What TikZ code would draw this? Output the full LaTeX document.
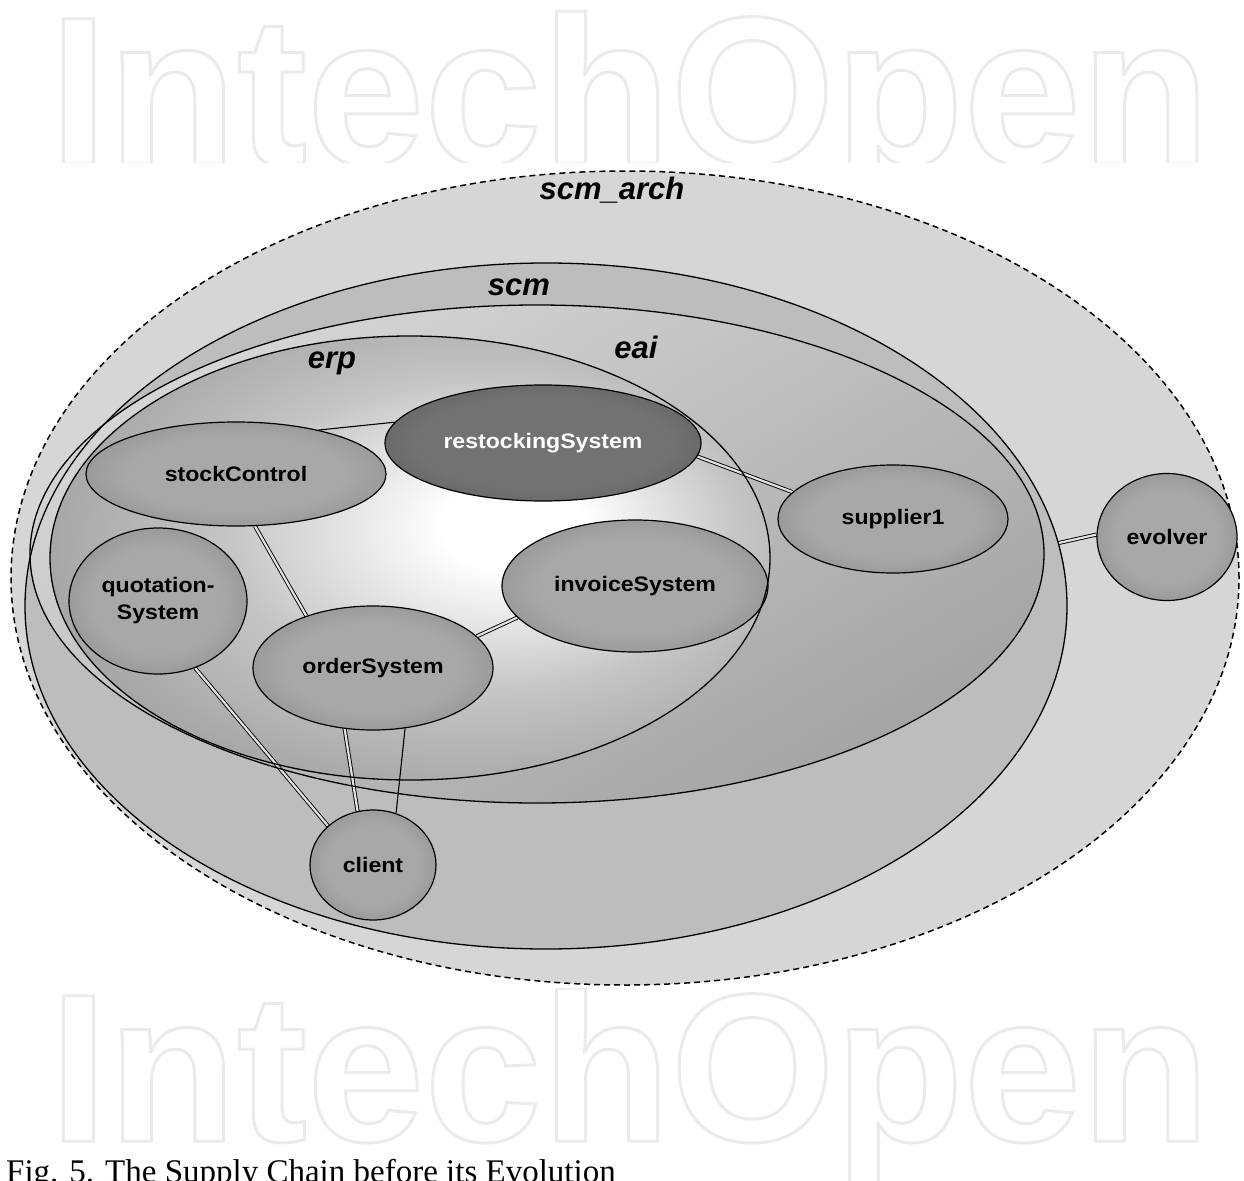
\documentclass[tikz,border=0pt]{standalone}
\usepackage{fontspec}
\setmainfont{Liberation Serif}
\setsansfont{Liberation Sans}
\newfontfamily\wmfont{Liberation Sans}
\usetikzlibrary{shapes.geometric}

\definecolor{wmgray}{HTML}{EBEBEB}
\definecolor{archfill}{HTML}{D6D6D6}
\definecolor{scmfill}{HTML}{BDBDBD}
\definecolor{eaitop}{HTML}{D6D6D6}
\definecolor{eaibot}{HTML}{A4A4A4}
\definecolor{erpout}{HTML}{A0A0A0}
\definecolor{erpmid}{HTML}{C4C4C4}
\definecolor{compin}{HTML}{A8A8A8}
\definecolor{compmid}{HTML}{8A8A8A}
\definecolor{compout}{HTML}{6A6A6A}
\definecolor{restin}{HTML}{727272}
\definecolor{restout}{HTML}{444444}
\definecolor{dblfill}{HTML}{E2E2E2}

\pgfdeclareradialshading{compsh}{\pgfpoint{0bp}{0bp}}{color(0bp)=(compin); color(18bp)=(compin); color(34bp)=(compmid); color(50bp)=(compout)}
\pgfdeclareradialshading{restsh}{\pgfpoint{0bp}{0bp}}{color(0bp)=(restin); color(20bp)=(restin); color(50bp)=(restout)}
\pgfdeclareradialshading{erpsh}{\pgfpoint{8bp}{4bp}}{color(0bp)=(white); color(5bp)=(white); color(18bp)=(erpmid); color(31bp)=(erpout); color(50bp)=(erpout)}

\newcommand{\complbl}[1]{\scalebox{1.1}[1]{#1}}
\newcommand{\outlinetext}[1]{\special{pdf:literal direct 1 Tr 3 w 0.92 G}#1\special{pdf:literal direct 0 Tr}}

\pgfdeclarelayer{bglayer}
\pgfdeclarelayer{connlayer}
\pgfdeclarelayer{toplayer}
\pgfsetlayers{bglayer,connlayer,main,toplayer}

\tikzset{
  container/.style={ellipse, inner sep=0pt, outer sep=0pt},
  compbox/.style={ellipse, draw=black, line width=1.2pt, shading=compsh, inner sep=0pt,
    font=\sffamily\bfseries\fontsize{21}{27}\selectfont, align=center},
  compdark/.style={compbox, shading=restsh, text=white},
  contborder/.style={draw=black, line width=1.3pt},
  archline/.style={draw=black, line width=1.5pt, dash pattern=on 6pt off 4pt},
  dblconn/.style={draw=black, line width=0.9pt, double=dblfill, double distance=2.2pt},
  sglconn/.style={draw=black, line width=1.1pt},
  contlabel/.style={font=\sffamily\bfseries\itshape\fontsize{31}{34}\selectfont, inner sep=0pt},
  wmtext/.style={font=\wmfont\bfseries\fontsize{211}{211}\selectfont, inner sep=0pt, anchor=base west, text=wmgray},
}

\begin{document}
\begin{tikzpicture}[x=1pt, y=-1pt]
\useasboundingbox (0,0) rectangle (1244,1180);

\begin{pgfonlayer}{bglayer}
  % watermark (outlined text)
  \node[wmtext] (wmtop) at (49,164) {\outlinetext{IntechOpen}};
  \node[wmtext] (wmbot) at (49,1141) {\outlinetext{IntechOpen}};
  \fill[white] (0,163) rectangle (1244,988);

  % containers
  \node[container, fill=archfill, archline, minimum width=1228pt, minimum height=814pt] (scmarch) at (625,578) {};
  \node[container, fill=scmfill, minimum width=1042pt, minimum height=686pt] (scm) at (546,606) {};
  \node[container, top color=eaitop, bottom color=eaibot, shading angle=30,
        minimum width=1014pt, minimum height=498pt] (eai) at (537,554) {};
  \node[container, shading=erpsh, minimum width=720pt, minimum height=444pt] (erp) at (410,558) {};
\end{pgfonlayer}

% labels of containers
\node[contlabel] (lblarch) at (612,190) {scm\_arch};
\node[contlabel] (lblscm) at (519,287) {scm};
\node[contlabel] (lbleai) at (636,347) {eai};
\node[contlabel] (lblerp) at (332,363) {erp};

% components
\node[compdark, minimum width=316pt, minimum height=116pt] (restock) at (543,443) {\complbl{restockingSystem}};
\node[compbox, minimum width=300pt, minimum height=104pt] (stock) at (236,474) {\complbl{stockControl}};
\node[compbox, minimum width=178pt, minimum height=146pt] (quot) at (158,601) {\complbl{quotation-}\\\complbl{System}};
\node[compbox, minimum width=240pt, minimum height=124pt] (order) at (373,668) {\complbl{orderSystem}};
\node[compbox, minimum width=266pt, minimum height=132pt] (invoice) at (635,586) {\complbl{invoiceSystem}};
\node[compbox, minimum width=230pt, minimum height=108pt] (supplier) at (893,519) {\complbl{supplier1}};
\node[compbox, minimum width=140pt, minimum height=127pt] (evolver) at (1167,537) {\complbl{evolver}};
\node[compbox, minimum width=126pt, minimum height=110pt] (client) at (373,865) {\complbl{client}};

\begin{pgfonlayer}{connlayer}
  \draw[sglconn] (stock.28) -- (restock.172);
  \draw[dblconn] (stock.-70) -- (order.142);
  \draw[dblconn] (restock.-5) -- (supplier.165);
  \draw[dblconn] (order.17) -- (invoice.195);
  \draw[dblconn] (scm.7) -- (evolver.178);
  \draw[dblconn] (quot.-61) -- (client.139);
  \draw[dblconn] (order.-115) -- (client.106);
  \draw[sglconn] (order.-62) -- (client.66);
\end{pgfonlayer}

\begin{pgfonlayer}{toplayer}
  \draw[contborder] (scm.center) ellipse [x radius=521pt, y radius=343pt];
  \draw[contborder] (eai.center) ellipse [x radius=507pt, y radius=249pt];
  \draw[contborder] (erp.center) ellipse [x radius=360pt, y radius=222pt];
\end{pgfonlayer}

% caption
\node[anchor=base west, font=\fontsize{33}{36}\selectfont, inner sep=0pt] (caption) at (6,1182)
  {Fig. 5. The Supply Chain before its Evolution};
\end{tikzpicture}
\end{document}
